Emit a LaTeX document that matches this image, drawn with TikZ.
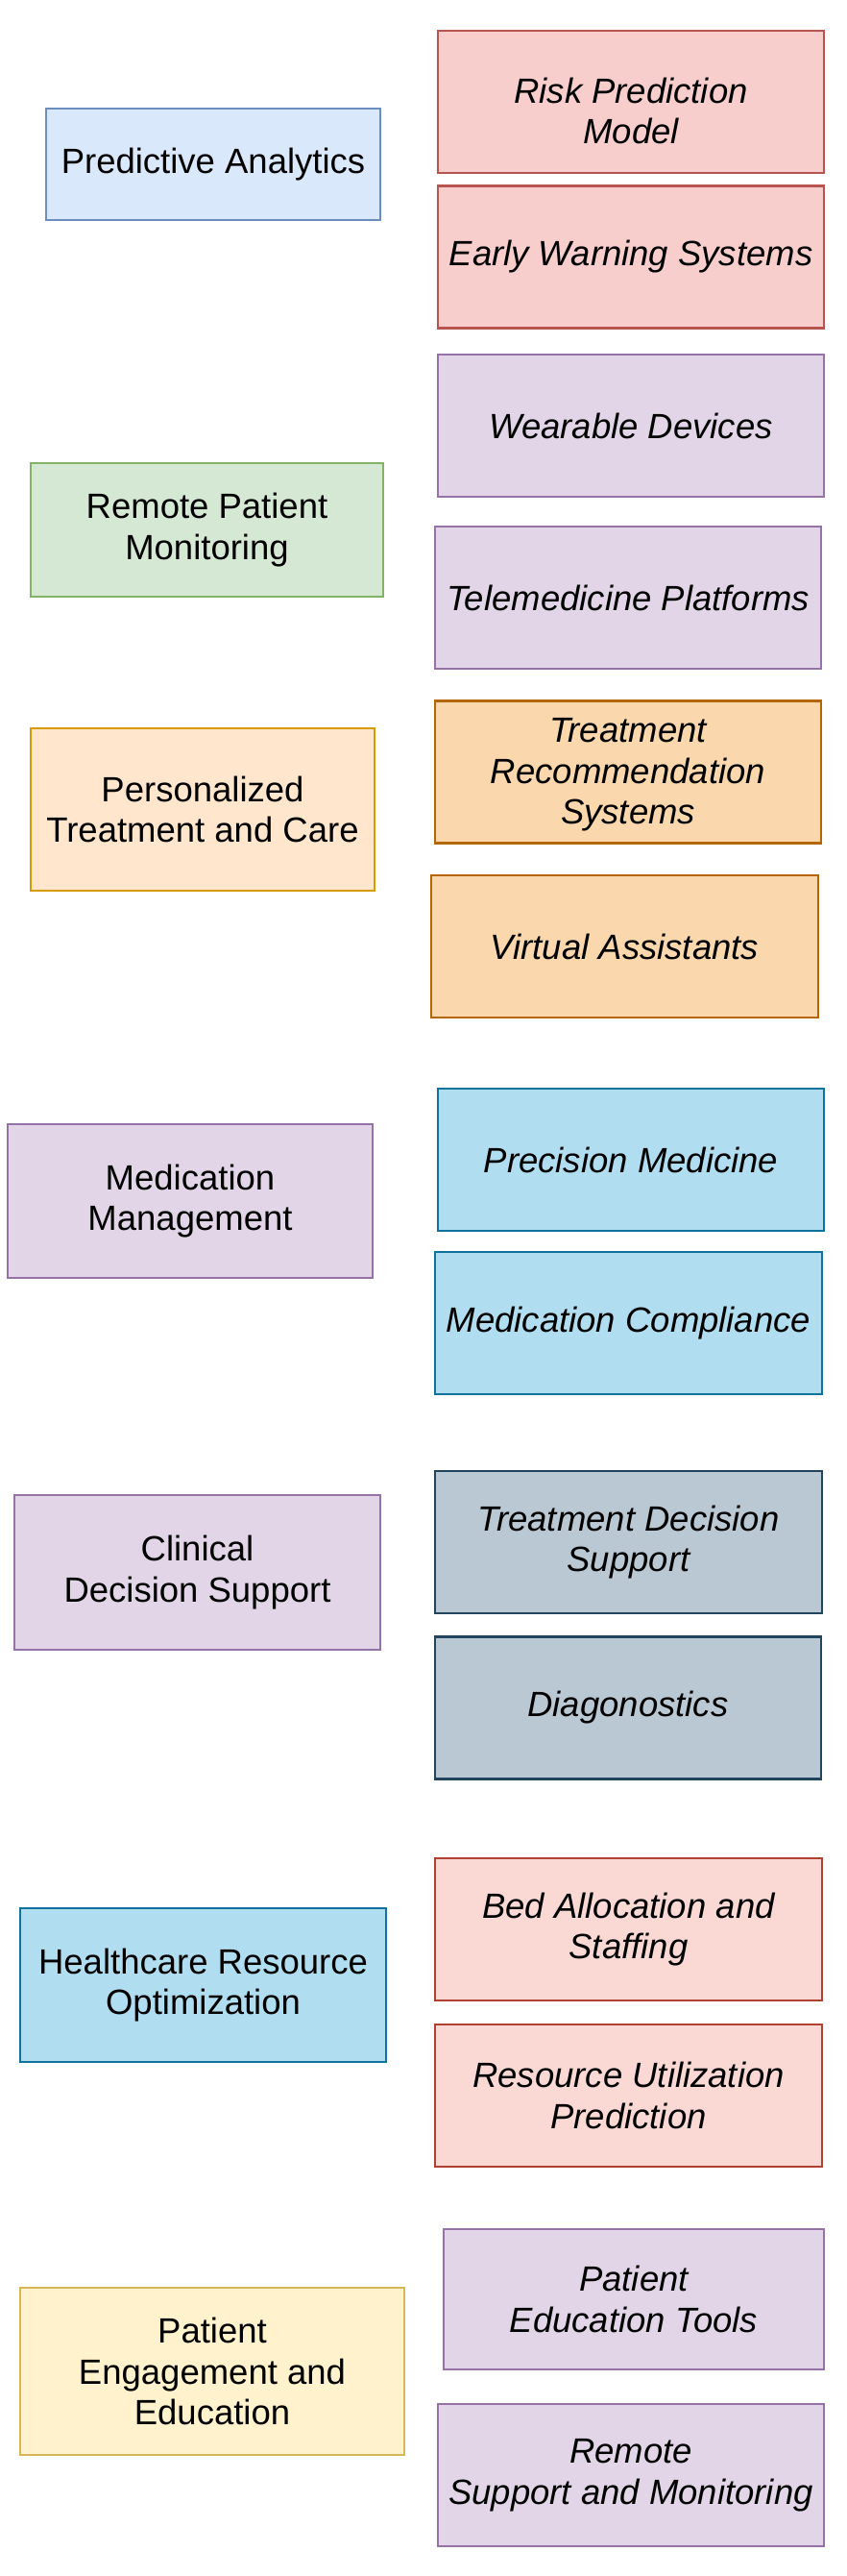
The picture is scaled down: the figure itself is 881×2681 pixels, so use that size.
\documentclass[tikz,border=0pt]{standalone}
\usepackage{fontspec}
\setmainfont{Liberation Sans}
\definecolor{blueF}{HTML}{DAE8FC}\definecolor{blueD}{HTML}{6C8EBF}
\definecolor{redF}{HTML}{F8CECC}\definecolor{redD}{HTML}{B85450}
\definecolor{purF}{HTML}{E1D5E7}\definecolor{purD}{HTML}{9673A6}
\definecolor{grnF}{HTML}{D5E8D4}\definecolor{grnD}{HTML}{82B366}
\definecolor{orF}{HTML}{FFE6CC}\definecolor{orD}{HTML}{D79B00}
\definecolor{or2F}{HTML}{FAD7AC}\definecolor{or2D}{HTML}{B46504}
\definecolor{lbF}{HTML}{B1DDF0}\definecolor{lbD}{HTML}{10739E}
\definecolor{gbF}{HTML}{BAC8D3}\definecolor{gbD}{HTML}{23445D}
\definecolor{lrF}{HTML}{FAD9D5}\definecolor{lrD}{HTML}{AE4132}
\definecolor{yeF}{HTML}{FFF2CC}\definecolor{yeD}{HTML}{D6B656}
\tikzset{
  box/.style={draw, line width=2.2pt, inner sep=0pt, align=center,
    font=\fontsize{36.5}{42.5}\selectfont},
  sub/.style={box, font=\fontsize{36.5}{42.5}\selectfont\itshape,
    minimum width=402, minimum height=148},
  blue/.style={fill=blueF, draw=blueD},
  red/.style={fill=redF, draw=redD},
  pur/.style={fill=purF, draw=purD},
  grn/.style={fill=grnF, draw=grnD},
  ora/.style={fill=orF, draw=orD},
  orb/.style={fill=or2F, draw=or2D},
  lbl/.style={fill=lbF, draw=lbD},
  gbl/.style={fill=gbF, draw=gbD},
  lrd/.style={fill=lrF, draw=lrD},
  yel/.style={fill=yeF, draw=yeD}
}
\begin{document}
\begin{tikzpicture}[x=1pt, y=-1pt]
\useasboundingbox (0,0) rectangle (881,2681);
% left column
\node[box, blue, minimum width=348, minimum height=116] (l1) at (222,171) {Predictive Analytics};
\node[box, grn, minimum width=367, minimum height=139] (l2) at (215.5,551.5) {Remote Patient\\Monitoring};
\node[box, ora, minimum width=358, minimum height=169] (l3) at (211,842.5) {Personalized\\Treatment and Care};
\node[box, pur, minimum width=380, minimum height=160] (l4) at (198,1250) {Medication\\Management};
\node[box, pur, minimum width=381, minimum height=161] (l5) at (205.5,1636.5) {Clinical\\Decision Support};
\node[box, lbl, minimum width=381, minimum height=160] (l6) at (211.5,2066) {Healthcare Resource\\Optimization};
\node[box, yel, minimum width=400, minimum height=174] (l7) at (221,2468) {Patient\\Engagement and\\Education};
% right column
\node[sub, red] (r1) at (657,106) {\rule{0pt}{45pt}Risk Prediction\\Model};
\node[sub, red] (r2) at (657,267.5) {Early Warning Systems};
\node[sub, pur] (r3) at (657,443) {Wearable Devices};
\node[sub, pur] (r4) at (654,622) {Telemedicine Platforms};
\node[sub, orb] (r5) at (654,803.5) {\rule{0pt}{31pt}Treatment\\Recommendation\\Systems};
\node[sub, orb, minimum width=403] (r6) at (650.5,985) {Virtual Assistants};
\node[sub, lbl] (r7) at (657,1207) {Precision Medicine};
\node[sub, lbl, minimum width=403] (r8) at (654.5,1377) {Medication Compliance};
\node[sub, gbl, minimum width=403] (r9) at (654.5,1605) {Treatment Decision\\Support};
\node[sub, gbl] (r10) at (654,1777.5) {Diagonostics};
\node[sub, lrd, minimum width=403] (r11) at (654.5,2008) {Bed Allocation and\\Staffing};
\node[sub, lrd, minimum width=403] (r12) at (654.5,2181) {Resource Utilization\\Prediction};
\node[sub, pur, minimum width=396, minimum height=146] (r13) at (660,2393) {Patient\\Education Tools};
\node[sub, pur] (r14) at (657,2576) {Remote\\Support and Monitoring};
\end{tikzpicture}
\end{document}
